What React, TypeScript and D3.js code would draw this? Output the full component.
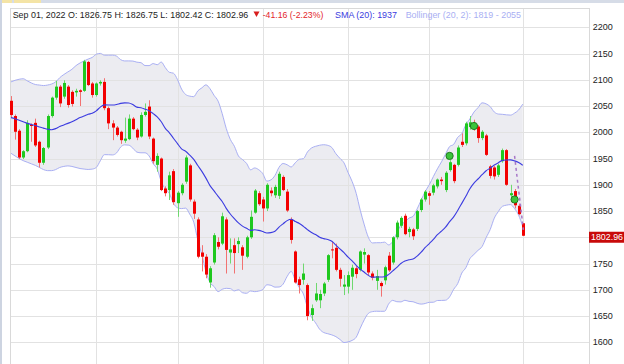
import * as d3 from "d3";

// trading days shown (MM-DD, 2022)
const days = [
  "03-03", "03-04", "03-07", "03-08", "03-09", "03-10", "03-11", "03-14", "03-15", "03-16", "03-17",
  "03-18", "03-21", "03-22", "03-23", "03-24", "03-25", "03-28", "03-29", "03-30", "03-31",
  "04-01", "04-04", "04-05", "04-06", "04-07", "04-08", "04-11", "04-12", "04-13", "04-14",
  "04-18", "04-19", "04-20", "04-21", "04-22", "04-25", "04-26", "04-27", "04-28", "04-29",
  "05-02", "05-03", "05-04", "05-05", "05-06", "05-09", "05-10", "05-11", "05-12", "05-13",
  "05-16", "05-17", "05-18", "05-19", "05-20", "05-23", "05-24", "05-25", "05-26", "05-27", "05-31",
  "06-01", "06-02", "06-03", "06-06", "06-07", "06-08", "06-09", "06-10", "06-13", "06-14",
  "06-15", "06-16", "06-17", "06-21", "06-22", "06-23", "06-24", "06-27", "06-28", "06-29", "06-30",
  "07-01", "07-05", "07-06", "07-07", "07-08", "07-11", "07-12", "07-13", "07-14", "07-15",
  "07-18", "07-19", "07-20", "07-21", "07-22", "07-25", "07-26", "07-27", "07-28", "07-29",
  "08-01", "08-02", "08-03", "08-04", "08-05", "08-08", "08-09", "08-10", "08-11", "08-12",
  "08-15", "08-16", "08-17", "08-18", "08-19", "08-22", "08-23", "08-24", "08-25", "08-26",
  "08-29", "08-30", "08-31", "09-01",
];

const opens = [
  2060, 2031, 2003, 1952, 1964, 2014, 2018, 1982, 1942, 1971, 2031, 2066, 2087, 2068, 2087, 2077, 2076, 2080, 2079, 2134, 2093,
  2071, 2093, 2096, 2046, 2017, 2009, 2001, 1984, 1987, 2026, 2005, 1992, 2033, 2049, 1988, 1938, 1950, 1893, 1890, 1926,
  1865, 1884, 1906, 1937, 1868, 1834, 1771, 1763, 1714, 1752, 1791, 1788, 1834, 1771, 1785, 1787, 1781, 1763, 1800, 1847, 1884,
  1872, 1855, 1889, 1880, 1879, 1915, 1887, 1834, 1773, 1720, 1719, 1709, 1652, 1680, 1680, 1693, 1719, 1777, 1780, 1738, 1706,
  1706, 1725, 1741, 1738, 1767, 1766, 1731, 1717, 1713, 1718, 1765, 1752, 1800, 1822, 1841, 1810, 1815, 1816, 1852, 1872,
  1884, 1885, 1897, 1910, 1890, 1928, 1938, 1938, 1982, 1979, 2010, 2018, 2011, 1989, 1994, 1935, 1933, 1919, 1945, 1966,
  1880, 1888, 1860, 1826.75,
];
const highs = [
  2069, 2034, 2006, 1966, 2023, 2017, 2026, 1984, 1972, 2034, 2068, 2098, 2090, 2099, 2090, 2080, 2083, 2082, 2138, 2136, 2096,
  2095, 2099, 2103, 2049, 2023, 2012, 2003, 2028, 2034, 2029, 2008, 2038, 2055, 2061, 1990, 1960, 1952, 1897, 1925, 1930,
  1888, 1903, 1956, 1940, 1872, 1838, 1785, 1768, 1745, 1808, 1800, 1847, 1838, 1798, 1798, 1800, 1785, 1803, 1851, 1892, 1888,
  1877, 1903, 1895, 1900, 1925, 1918, 1892, 1838, 1775, 1725, 1750, 1712, 1672, 1713, 1700, 1715, 1768, 1792, 1788, 1742, 1728,
  1735, 1748, 1745, 1775, 1779, 1768, 1735, 1738, 1716, 1746, 1772, 1802, 1832, 1840, 1845, 1820, 1818, 1852, 1875, 1890,
  1888, 1902, 1912, 1915, 1926, 1947, 1940, 1975, 1998, 2020, 2031, 2024, 2014, 2004, 1997, 1938, 1936, 1940, 1969, 1968,
  1900, 1892, 1864, 1826.75,
];
const lows = [
  2028, 1986, 1949, 1949, 1962, 1982, 1972, 1933, 1938, 1968, 2028, 2062, 2048, 2064, 2047, 2049, 2068, 2050, 2077, 2088, 2066,
  2068, 2089, 2042, 2006, 1985, 1992, 1978, 1980, 1985, 2004, 1985, 1990, 2030, 1987, 1940, 1925, 1888, 1878, 1871, 1862,
  1839, 1880, 1902, 1868, 1835, 1760, 1735, 1722, 1704, 1748, 1777, 1785, 1731, 1750, 1731, 1770, 1738, 1760, 1797, 1845, 1860,
  1830, 1850, 1878, 1875, 1873, 1888, 1848, 1788, 1712, 1693, 1710, 1642, 1641, 1677, 1665, 1688, 1715, 1760, 1735, 1706, 1690,
  1693, 1700, 1722, 1735, 1750, 1728, 1718, 1700, 1687, 1710, 1734, 1748, 1796, 1818, 1804, 1800, 1795, 1812, 1848, 1868,
  1862, 1880, 1893, 1900, 1886, 1925, 1903, 1935, 1972, 1975, 2005, 2003, 1980, 1985, 1955, 1912, 1910, 1915, 1942, 1898,
  1876, 1855, 1842, 1802.42,
];
const closes = [
  2033, 2001, 1952, 1964, 2018, 2012, 1975, 1942, 1970, 2031, 2066, 2087, 2055, 2094, 2052, 2054, 2079, 2077, 2135, 2090, 2071,
  2093, 2096, 2046, 2017, 2009, 1995, 1985, 1988, 2026, 2006, 1990, 2033, 2039, 1992, 1945, 1955, 1890, 1884, 1918, 1867,
  1885, 1900, 1952, 1872, 1845, 1763, 1763, 1729, 1741, 1804, 1782, 1840, 1776, 1777, 1770, 1793, 1765, 1800, 1839, 1889, 1863,
  1855, 1900, 1884, 1896, 1921, 1890, 1851, 1795, 1714, 1709, 1731, 1650, 1665, 1693, 1692, 1712, 1766, 1775, 1738, 1721, 1710,
  1728, 1742, 1730, 1773, 1772, 1733, 1723, 1726, 1707, 1743, 1737, 1800, 1828, 1837, 1806, 1816, 1802, 1850, 1872, 1887,
  1879, 1899, 1910, 1907, 1923, 1943, 1907, 1971, 1976, 2017, 2019, 2011, 1989, 2001, 1957, 1917, 1916, 1937, 1966, 1900,
  1884, 1861, 1844.12, 1802.96,
];

// SMA / Bollinger before a full 20-day window is visible
const smaLead = [2028, 2026, 2023, 2020, 2017, 2015, 2013, 2010, 2008, 2006, 2005, 2007, 2011, 2014, 2017, 2020, 2024, 2028, 2031];
const upperLead = [2096, 2099, 2101, 2102, 2098, 2094, 2091, 2090, 2089, 2090, 2092, 2096, 2104, 2110, 2115, 2120, 2127, 2132, 2136];
const lowerLead = [1960, 1955, 1950, 1946, 1943, 1940, 1937, 1933, 1929, 1927, 1927, 1929, 1933, 1935, 1936, 1935, 1933, 1931, 1930];

const yTicks = [2200, 2150, 2100, 2050, 2000, 1950, 1900, 1850, 1800, 1750, 1700, 1650, 1600];

// signal markers and projection
const signalIdx = [108, 114, 124];
const signalPrice = [1955, 2012, 1872];
const projIdx = [124.0, 124.9, 125.5, 126.15];
const projPrice = [1955, 1896, 1858, 1814];

const lastClose = 1802.96;

const W = 624, H = 364;
const panel = { left: 10, top: 8, right: 589 };

const GREEN = "#1fc81f", RED = "#f20000";
const GREEN_WICK = "#6fd86f", RED_WICK = "#f27272";
const font = "'Liberation Sans', Arial, sans-serif";

const App = () => {
  const x = d3.scaleLinear().domain([0, closes.length - 1]).range([11, 522.7]);
  const y = d3.scaleLinear().domain([1600, 2200]).range([342.3, 27.3]);

  // 20 period SMA and bollinger (2 sd)
  const sma = closes.map((_, i) => (i < 19 ? smaLead[i] : (d3.mean(closes.slice(i - 19, i + 1)) as number)));
  const sd = closes.map((_, i) => {
    if (i < 19) return 0;
    const win = closes.slice(i - 19, i + 1);
    const m = sma[i];
    return Math.sqrt(d3.sum(win, (v) => (v - m) * (v - m)) / win.length);
  });
  const upper = sma.map((m, i) => (i < 19 ? upperLead[i] : m + 2 * sd[i]));
  const lower = sma.map((m, i) => (i < 19 ? lowerLead[i] : m - 2 * sd[i]));
  const idx = d3.range(closes.length);

  const band = d3.area<number>()
    .x((i) => x(i))
    .y0((i) => y(lower[i]))
    .y1((i) => y(upper[i]))
    .curve(d3.curveMonotoneX);
  const lineOf = (arr: number[]) => d3.line<number>().x((i) => x(i)).y((i) => y(arr[i])).curve(d3.curveMonotoneX)(idx) as string;

  const monthStarts = idx.filter((i) => i > 0 && days[i].slice(0, 2) !== days[i - 1].slice(0, 2));

  const proj = d3.line<number>()
    .x((k) => x(projIdx[k]))
    .y((k) => y(projPrice[k]))
    .curve(d3.curveMonotoneY)(d3.range(projIdx.length)) as string;

  // the last price tag hides the tick label under it
  const tagY = y(lastClose) + 1.5;
  const axisTicks = yTicks.filter((t) => Math.abs(y(t) - tagY) > 9);

  return (
    <svg width={W} height={H} style={{ position: "fixed", left: 0, top: 0, background: "#fff" }} fontFamily={font}>
      <rect x={0} y={0} width={W} height={H} fill="#fff" />
      {/* window chrome */}
      <rect x={0} y={0} width={W} height={3} fill="#d6dce7" />
      <rect x={0} y={0} width={12} height={3} fill="#f4e4a6" />
      <rect x={14} y={0} width={27} height={3} fill="#f4e4a6" />
      <rect x={0} y={0} width={2} height={H} fill="#cdd4e1" />

      {/* bollinger fill */}
      <path d={band(idx) as string} fill="#ececf1" />

      {/* grid */}
      {yTicks.map((t) => (
        <line key={t} x1={panel.left} x2={panel.right} y1={Math.round(y(t)) + 0.5} y2={Math.round(y(t)) + 0.5} stroke="#e2e2e2" />
      ))}
      {monthStarts.map((i) => (
        <line key={i} x1={Math.round(x(i)) + 0.5} x2={Math.round(x(i)) + 0.5} y1={panel.top} y2={H} stroke="#e2e2e2" />
      ))}
      <rect x={panel.left + 0.5} y={panel.top + 0.5} width={panel.right - panel.left} height={H} fill="none" stroke="#d9d9d9" />

      {/* bollinger lines */}
      <path d={lineOf(upper)} fill="none" stroke="#a9aff3" strokeWidth={1} />
      <path d={lineOf(lower)} fill="none" stroke="#a9aff3" strokeWidth={1} />

      {/* candles */}
      {idx.map((i) => {
        const o = opens[i], c = closes[i];
        const up = c >= o;
        const cx = Math.round(x(i));
        const yt = y(Math.max(o, c));
        const yb = y(Math.min(o, c));
        return (
          <g key={i}>
            <line x1={cx + 0.5} x2={cx + 0.5} y1={y(highs[i])} y2={y(lows[i])} stroke={up ? GREEN_WICK : RED_WICK} />
            <rect x={cx - 1} y={yt} width={3} height={Math.max(1, yb - yt)} fill={up ? GREEN : RED} />
          </g>
        );
      })}

      {/* SMA */}
      <path d={lineOf(sma)} fill="none" stroke="#3b3be0" strokeWidth={1.1} />

      {/* projection */}
      <path d={proj} fill="none" stroke="#a878c8" strokeWidth={1.5} strokeDasharray="3,3" />

      {/* signals */}
      {signalIdx.map((si, k) => (
        <circle key={si} cx={x(si)} cy={y(signalPrice[k])} r={3.6} fill="#3cc43c" stroke="#207a20" strokeWidth={1} />
      ))}

      {/* header */}
      <text x={12.7} y={17.5} fontSize={9} fill="#1c1c1c" textLength={235.6} lengthAdjust="spacingAndGlyphs">
        Sep 01, 2022 O: 1826.75 H: 1826.75 L: 1802.42 C: 1802.96
      </text>
      <path d="M253.5,11.5 L259.5,11.5 L256.5,17 Z" fill="#d81e1e" />
      <text x={262.7} y={17.5} fontSize={9} fill="#e3262b" textLength={60.6} lengthAdjust="spacingAndGlyphs">
        -41.16 (-2.23%)
      </text>
      <text x={335} y={17.5} fontSize={9} fill="#3b3be0" textLength={62} lengthAdjust="spacingAndGlyphs">
        SMA (20): 1937
      </text>
      <text x={405.7} y={17.5} fontSize={9} fill="#a9aff3" textLength={115.3} lengthAdjust="spacingAndGlyphs">
        Bollinger (20, 2): 1819 - 2055
      </text>

      {/* right axis */}
      {axisTicks.map((t) => (
        <text key={t} x={592.7} y={y(t)} dy="0.35em" fontSize={9} fill="#222">
          {t}
        </text>
      ))}
      <rect x={589} y={tagY - 5.5} width={36} height={11} fill="#c80a0a" />
      <text x={591} y={tagY} dy="0.35em" fontSize={9} fill="#fff" textLength={32} lengthAdjust="spacingAndGlyphs">
        {lastClose.toFixed(2)}
      </text>
    </svg>
  );
};

export default App;
